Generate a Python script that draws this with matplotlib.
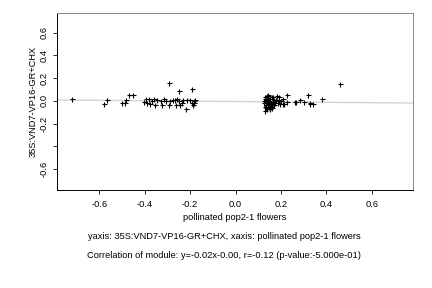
import matplotlib
matplotlib.use("Agg")
import matplotlib.pyplot as plt
import numpy as np

plt.rcParams['font.family'] = ['Liberation Sans', 'DejaVu Sans']

# points (x: pollinated pop2-1, y: 35S:VND7-VP16-GR+CHX)
left_x = [-0.72, -0.58, -0.566, -0.50, -0.486, -0.481, -0.47, -0.452,
          -0.405, -0.393, -0.39, -0.383, -0.376, -0.368, -0.361, -0.354,
          -0.346, -0.33, -0.324, -0.314, -0.295, -0.295, -0.305, -0.288,
          -0.276, -0.266, -0.262, -0.256, -0.247, -0.247, -0.244, -0.237,
          -0.23, -0.214, -0.218, -0.2, -0.193, -0.193, -0.188, -0.182,
          -0.178, -0.182]
left_y = [0.02, -0.03, 0.01, -0.02, -0.015, 0.01, 0.055, 0.05,
          -0.01, 0.02, -0.02, 0.02, -0.03, -0.005, 0.02, -0.04,
          0.01, 0.0, -0.04, 0.02, -0.04, 0.155, -0.005, -0.005,
          0.01, 0.01, -0.035, 0.02, -0.005, 0.09, -0.04, -0.015,
          0.01, 0.01, -0.075, 0.01, 0.1, -0.02, -0.04, 0.0,
          0.01, -0.015]

right_x = [0.462, 0.379, 0.32, 0.33, 0.339, 0.327, 0.301, 0.283,
           0.265, 0.26, 0.228, 0.225, 0.21, 0.213, 0.207, 0.193,
           0.181, 0.178, 0.144, 0.13,
           0.125, 0.127, 0.13, 0.132, 0.135, 0.128, 0.138, 0.14,
           0.142, 0.145, 0.133, 0.136, 0.148, 0.15, 0.152, 0.155,
           0.158, 0.16, 0.162, 0.165, 0.168, 0.17, 0.14, 0.147,
           0.153, 0.157, 0.163, 0.172, 0.175, 0.185, 0.19, 0.195,
           0.2, 0.129, 0.137, 0.146, 0.151, 0.134]
right_y = [0.145, 0.02, 0.05, -0.015, -0.03, -0.03, -0.01, 0.01,
           -0.01, -0.01, 0.05, -0.01, 0.02, -0.03, -0.025, 0.03,
           0.04, 0.005, 0.05, -0.09,
           0.0, -0.02, 0.03, -0.04, 0.01, -0.05, -0.01, 0.02,
           -0.03, 0.04, -0.06, -0.015, 0.0, -0.04, 0.02, -0.05,
           -0.02, 0.03, -0.06, -0.01, -0.035, 0.01, -0.07, 0.015,
           -0.045, -0.025, 0.035, -0.02, 0.0, -0.02, 0.01, -0.03,
           0.0, 0.02, 0.04, -0.055, -0.075, -0.035]

slope = -0.017
intercept = -0.006

xticks = [-0.6, -0.4, -0.2, 0.0, 0.2, 0.4, 0.6]
yticks = [-0.6, -0.4, -0.2, 0.0, 0.2, 0.4, 0.6]
ytick_labels = ['-0.6', '', '-0.2', '0.0', '0.2', '0.4', '0.6']

fs = 6.7

fig = plt.figure(figsize=(4.32, 2.88), dpi=100)
ax = fig.add_axes([0.1326, 0.3403, 0.8227, 0.6156])

xlim = (-0.785, 0.78)
xs = np.array(xlim)
ax.plot(xs, slope * xs + intercept, color='#d4d4d4', lw=1.0, zorder=1)

ax.plot(left_x + right_x, left_y + right_y, linestyle='none', marker='+',
        color='black', markersize=3.6, markeredgewidth=0.8, zorder=2)

ax.set_xlim(*xlim)
ax.set_ylim(-0.784, 0.775)
ax.set_xticks(xticks)
ax.set_xticklabels(['%.1f' % v for v in xticks])
ax.set_yticks(yticks)
ax.set_yticklabels(ytick_labels, rotation=90, va='center')
ax.tick_params(labelsize=fs, length=3, width=0.6, pad=4)
ax.tick_params(axis='y', pad=3)

for s in ['top', 'right']:
    ax.spines[s].set_color('#888888')
for s in ax.spines.values():
    s.set_linewidth(0.7)

ax.set_xlabel('pollinated pop2-1 flowers', fontsize=fs, labelpad=3)
ax.set_ylabel('35S:VND7-VP16-GR+CHX', fontsize=fs, labelpad=2)

fig.text(0.519, 0.18, 'yaxis: 35S:VND7-VP16-GR+CHX, xaxis: pollinated pop2-1 flowers',
         ha='center', va='center', fontsize=fs)
fig.text(0.519, 0.113, 'Correlation of module: y=-0.02x-0.00, r=-0.12 (p-value:-5.000e-01)',
         ha='center', va='center', fontsize=fs)

fig.savefig('out.png', dpi=100)
